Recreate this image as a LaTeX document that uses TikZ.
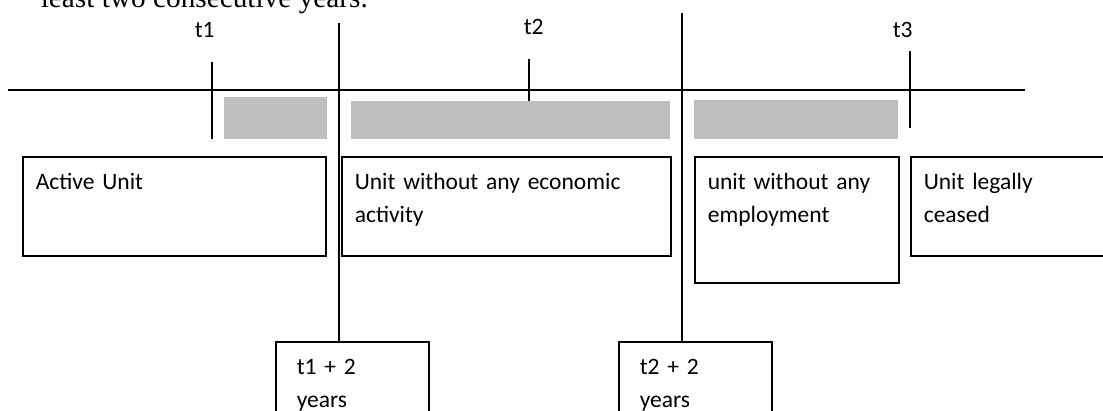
\documentclass[tikz,border=0pt]{standalone}
\usepackage{fontspec}
\setmainfont{Carlito}
\newfontfamily\notefont{Liberation Serif}
\usepackage{tikz}

\definecolor{barfill}{HTML}{BFBFBF}

\begin{document}
\begin{tikzpicture}[
  x=1pt, y=-1pt,
  font=\fontsize{23.5}{33}\selectfont,
  line width=1.6pt,
  every node/.style={inner sep=0pt},
  box/.style={draw, anchor=north west, align=left, inner xsep=13pt, inner ysep=0pt, text height=33pt, text depth=66pt},
  yearbox/.style={box, inner xsep=21pt, text width=111pt, text depth=90pt},
  tlabel/.style={anchor=base west},
  bar/.style={fill=barfill, draw=none},
]
\useasboundingbox (0,0) rectangle (1103,410);
\clip (0,0) rectangle (1103,410);

% end of the sentence above the figure
\node[anchor=base west, font={\notefont\fontsize{29.3pt}{35pt}\selectfont}] (note) at (40,7.5) {least two consecutive years.};

% time axis
\coordinate (axisstart) at (8,90);
\coordinate (axisend) at (1025,90);
\draw (axisstart) -- (axisend);

\draw (212,62) -- (212,139);
\draw (529,59) -- (529,101);
\draw (910,51) -- (910,128);

\node[tlabel] (tone) at (194,37) {t1};
\node[tlabel] (ttwo) at (523,34) {t2};
\node[tlabel] (tthree) at (892,37) {t3};

% grey periods
\fill[bar] (224,97) rectangle (327,139);
\fill[bar] (351,101) rectangle (670,139);
\fill[bar] (694,100) rectangle (898,139);

% states of the unit
\node[box, text width=277pt] (active) at (22,156) {Active Unit};
\node[box, text width=303pt] (noactivity) at (341,156) {Unit without any economic\\ activity};
\node[box, text width=178pt, text depth=93pt] (noemploy) at (694,156) {unit without any\\ employment};
\node[box, text width=172pt] (ceased) at (910,156) {Unit legally\\ ceased};

% two-year marks
\node[yearbox] (tonetwo) at (275,341) {t1 + 2\\ years};
\node[yearbox] (ttwotwo) at (618,341) {t2 + 2\\ years};

\coordinate (markone) at (339,23);
\coordinate (marktwo) at (682,13);
\draw (markone) -- (markone |- tonetwo.north);
\draw (marktwo) -- (marktwo |- ttwotwo.north);

\end{tikzpicture}
\end{document}
